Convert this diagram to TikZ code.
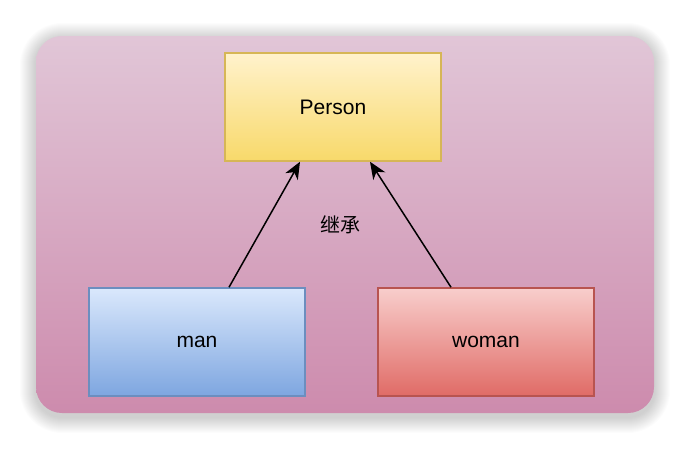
\documentclass[tikz,border=0pt]{standalone}
\usepackage{fontspec}
\setmainfont{Liberation Sans}
\newfontfamily\cjk{Noto Sans CJK SC}
\usetikzlibrary{arrows.meta,positioning}
\definecolor{panelTop}{HTML}{E1C6D7}
\definecolor{panelBottom}{HTML}{CD8BAD}
\definecolor{yellowTop}{HTML}{FFF2CC}
\definecolor{yellowBottom}{HTML}{F8D96A}
\definecolor{yellowLine}{HTML}{D6B656}
\definecolor{blueTop}{HTML}{DAE8FC}
\definecolor{blueBottom}{HTML}{7EA6E0}
\definecolor{blueLine}{HTML}{6C8EBF}
\definecolor{redTop}{HTML}{F8CECC}
\definecolor{redBottom}{HTML}{E06B66}
\definecolor{redLine}{HTML}{B85450}
\tikzset{
    classbox/.style={draw, line width=1.5pt, minimum width=216pt, minimum height=108pt,
        inner sep=0pt, font=\fontsize{21}{25}\selectfont},
    inheritline/.style={line width=1.5pt, arrows={-Stealth[length=0.6cm, width=0.5cm, inset=0.18cm]}}
}

\begin{document}
\begin{tikzpicture}[x=1pt, y=-1pt]
    \useasboundingbox (0,0) rectangle (690,450);
    % soft shadow
    \foreach \s in {1,...,16}
        \fill[black, opacity=0.011, rounded corners=26pt+\s pt] (36-\s, 39-\s) rectangle (654+\s, 417+\s);
    % panel
    \path[top color=panelTop, bottom color=panelBottom, rounded corners=26pt]
        (36,36) rectangle (654,413);
    % classes
    \node[classbox, draw=yellowLine, top color=yellowTop, bottom color=yellowBottom] (person) at (333,107) {Person};
    \node[classbox, draw=blueLine, top color=blueTop, bottom color=blueBottom] (man) at (197,342) {man};
    \node[classbox, draw=redLine, top color=redTop, bottom color=redBottom] (woman) at (486,342) {woman};
    \draw[inheritline] ([xshift=32pt]man.north) -- ([xshift=-33pt]person.south);
    \draw[inheritline] ([xshift=-35pt]woman.north) -- ([xshift=37pt]person.south);
    \node[font=\cjk\fontsize{20}{24}\selectfont] (label) at (340,225) {继承};
\end{tikzpicture}
\end{document}
